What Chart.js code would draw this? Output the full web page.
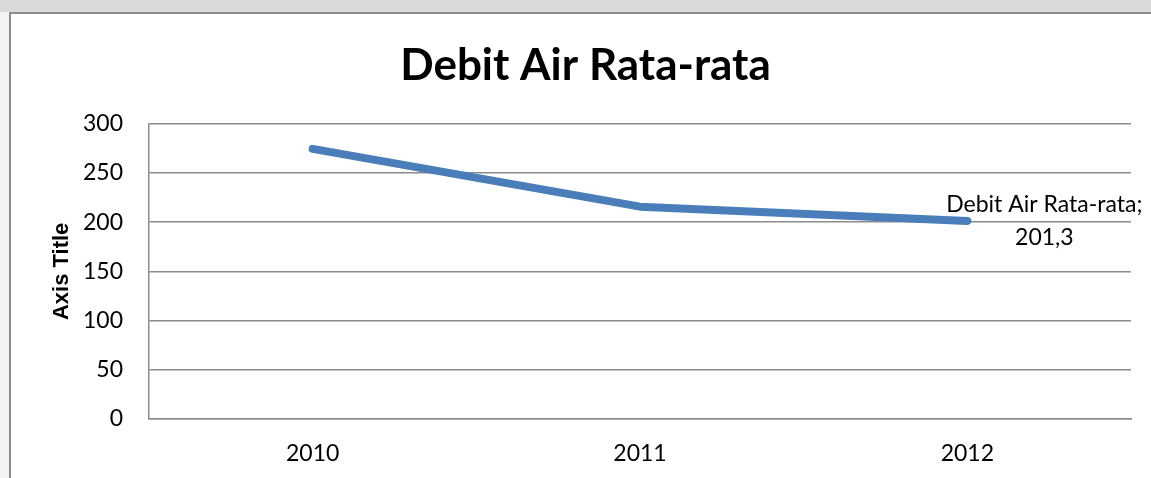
<!DOCTYPE html>
<html>
<head>
<meta charset="utf-8">
<script src="https://cdn.jsdelivr.net/npm/chart.js@4/dist/chart.umd.min.js"></script>
<style>
  html, body { margin: 0; padding: 0; overflow: hidden; }
  body {
    width: 1151px; height: 478px; position: relative;
    background: linear-gradient(to bottom, #d9d9d9 0px, #d9d9d9 12px, #f3f3f3 12px);
  }
  #frame {
    position: absolute; left: 9px; top: 12px; width: 1140px; height: 464px;
    background: #ffffff; border-left: 2px solid #8c8c8c; border-top: 2px solid #8c8c8c;
  }
  #wrap { position: absolute; left: 40px; top: 13px; width: 1111px; height: 465px; }
</style>
</head>
<body>
<div id="frame"></div>
<div id="wrap"><canvas id="chart"></canvas></div>
<script>
// Average water discharge per year
const chartTitle = 'Debit Air Rata-rata';
const seriesName = 'Debit Air Rata-rata';
const years = ['2010', '2011', '2012'];
const debitValues = [274.5, 215.8, 201.3];
const yTicks = [0, 50, 100, 150, 200, 250, 300];
const yAxisTitle = 'Axis Title';

const FONT = 'Lato, Carlito, Calibri, "Open Sans", sans-serif';
const gridColor = '#8c8c8c';

// Label for the last point: "<series>;" above, value (decimal comma) below
const lastPointLabel = {
  id: 'lastPointLabel',
  afterDatasetsDraw(chart) {
    const meta = chart.getDatasetMeta(0);
    const i = debitValues.length - 1;
    const pt = meta.data[i];
    const ctx = chart.ctx;
    ctx.save();
    ctx.font = '23px ' + FONT;
    ctx.fillStyle = '#000000';
    ctx.textAlign = 'center';
    ctx.textBaseline = 'middle';
    const cx = pt.x + 77;
    ctx.fillText(seriesName + ';', cx, pt.y - 16);
    ctx.fillText(debitValues[i].toFixed(1).replace('.', ','), cx, pt.y + 17);
    ctx.restore();
  }
};

new Chart(document.getElementById('chart'), {
  type: 'line',
  data: {
    labels: years,
    datasets: [{
      label: seriesName,
      data: debitValues,
      borderColor: '#4a7ebb',
      backgroundColor: '#4a7ebb',
      borderWidth: 8,
      borderCapStyle: 'round',
      borderJoinStyle: 'round',
      pointRadius: 0,
      pointHoverRadius: 0,
      tension: 0,
      fill: false
    }]
  },
  options: {
    responsive: true,
    maintainAspectRatio: false,
    animation: false,
    events: [],
    layout: { padding: { left: 0, right: 20, top: 0, bottom: 0 } },
    plugins: {
      legend: { display: false },
      tooltip: { enabled: false },
      title: {
        display: true,
        text: chartTitle,
        color: '#000000',
        font: { family: FONT, size: 44, weight: 'bold' },
        padding: { top: 26, bottom: 32 }
      }
    },
    scales: {
      x: {
        offset: true,
        grid: { display: false, drawTicks: false },
        border: { display: true, color: gridColor, width: 1.5 },
        ticks: { color: '#000000', font: { family: FONT, size: 23 }, padding: 21, maxRotation: 0 },
        afterFit(scale) { scale.height = 59; }
      },
      y: {
        min: 0,
        max: 300,
        afterBuildTicks(scale) { scale.ticks = yTicks.map(v => ({ value: v })); },
        grid: { color: gridColor, lineWidth: 1.5, drawTicks: false },
        border: { display: true, color: gridColor, width: 1.5 },
        ticks: { color: '#000000', font: { family: FONT, size: 23 }, padding: 26 },
        title: {
          display: true,
          text: yAxisTitle,
          color: '#000000',
          font: { family: '"Liberation Sans", Arial, sans-serif', size: 22, weight: 'bold' },
          padding: { top: 9, bottom: 0 }
        },
        afterFit(scale) { scale.width = 109; }
      }
    }
  },
  plugins: [lastPointLabel]
});
</script>
</body>
</html>
